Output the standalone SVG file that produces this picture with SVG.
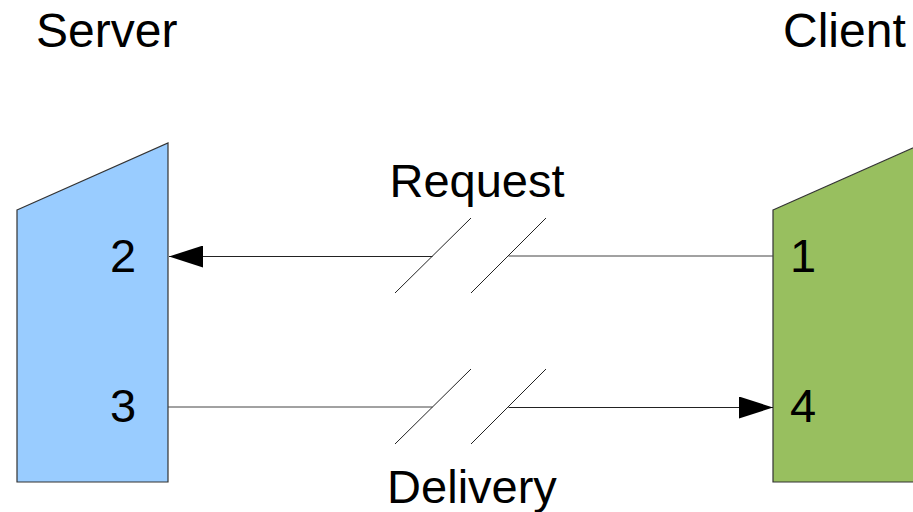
<svg xmlns="http://www.w3.org/2000/svg" width="913" height="512" viewBox="0 0 913 512">
<style>
  .lbl { font-family: "Liberation Sans", Arial, sans-serif; font-size: 47px; fill: #000; }
  .mid { text-anchor: middle; }
  .shape { stroke: #333; stroke-width: 1.2; }
  .ln { stroke-width: 1; fill: none; }
  .slash { stroke: #222; stroke-width: 1; fill: none; }
</style>
<defs>
  <marker id="ah" markerUnits="userSpaceOnUse" markerWidth="34" markerHeight="22" refX="34" refY="11" orient="auto">
    <path d="M0,0 L34,11 L0,22 Z" fill="#000"/>
  </marker>
</defs>
<rect width="913" height="512" fill="#fff"/>
<text class="lbl" x="36" y="47" style="font-size:48px">Server</text>
<text class="lbl" x="783" y="47" style="font-size:48px">Client</text>
<g id="server">
  <polygon class="shape" points="17,210 168,143 168,482 17,482" fill="#99ccff"/>
  <text class="lbl mid" x="123" y="272">2</text>
  <text class="lbl mid" x="123" y="422">3</text>
</g>
<g id="client">
  <polygon class="shape" points="773,210 924,143 924,482 773,482" fill="#98bf5f"/>
  <text class="lbl" x="790" y="272">1</text>
  <text class="lbl" x="790" y="422">4</text>
</g>
<g id="connectors">
  <g id="request">
    <line class="ln" x1="773" y1="256" x2="508.5" y2="256" stroke="#444"/>
    <line class="ln" x1="432.5" y1="256.5" x2="169" y2="256.5" stroke="#222" marker-end="url(#ah)"/>
    <line class="slash" x1="395" y1="293" x2="471" y2="218"/>
    <line class="slash" x1="471" y1="293" x2="546" y2="218"/>
    <text class="lbl mid" x="477" y="197">Request</text>
  </g>
  <g id="delivery">
    <line class="ln" x1="168" y1="407" x2="432.5" y2="407" stroke="#444"/>
    <line class="ln" x1="508.5" y1="407.5" x2="773" y2="407.5" stroke="#222" marker-end="url(#ah)"/>
    <line class="slash" x1="395" y1="444" x2="471" y2="369"/>
    <line class="slash" x1="471" y1="444" x2="546" y2="369"/>
    <text class="lbl mid" x="472" y="503">Delivery</text>
  </g>
</g>
</svg>
